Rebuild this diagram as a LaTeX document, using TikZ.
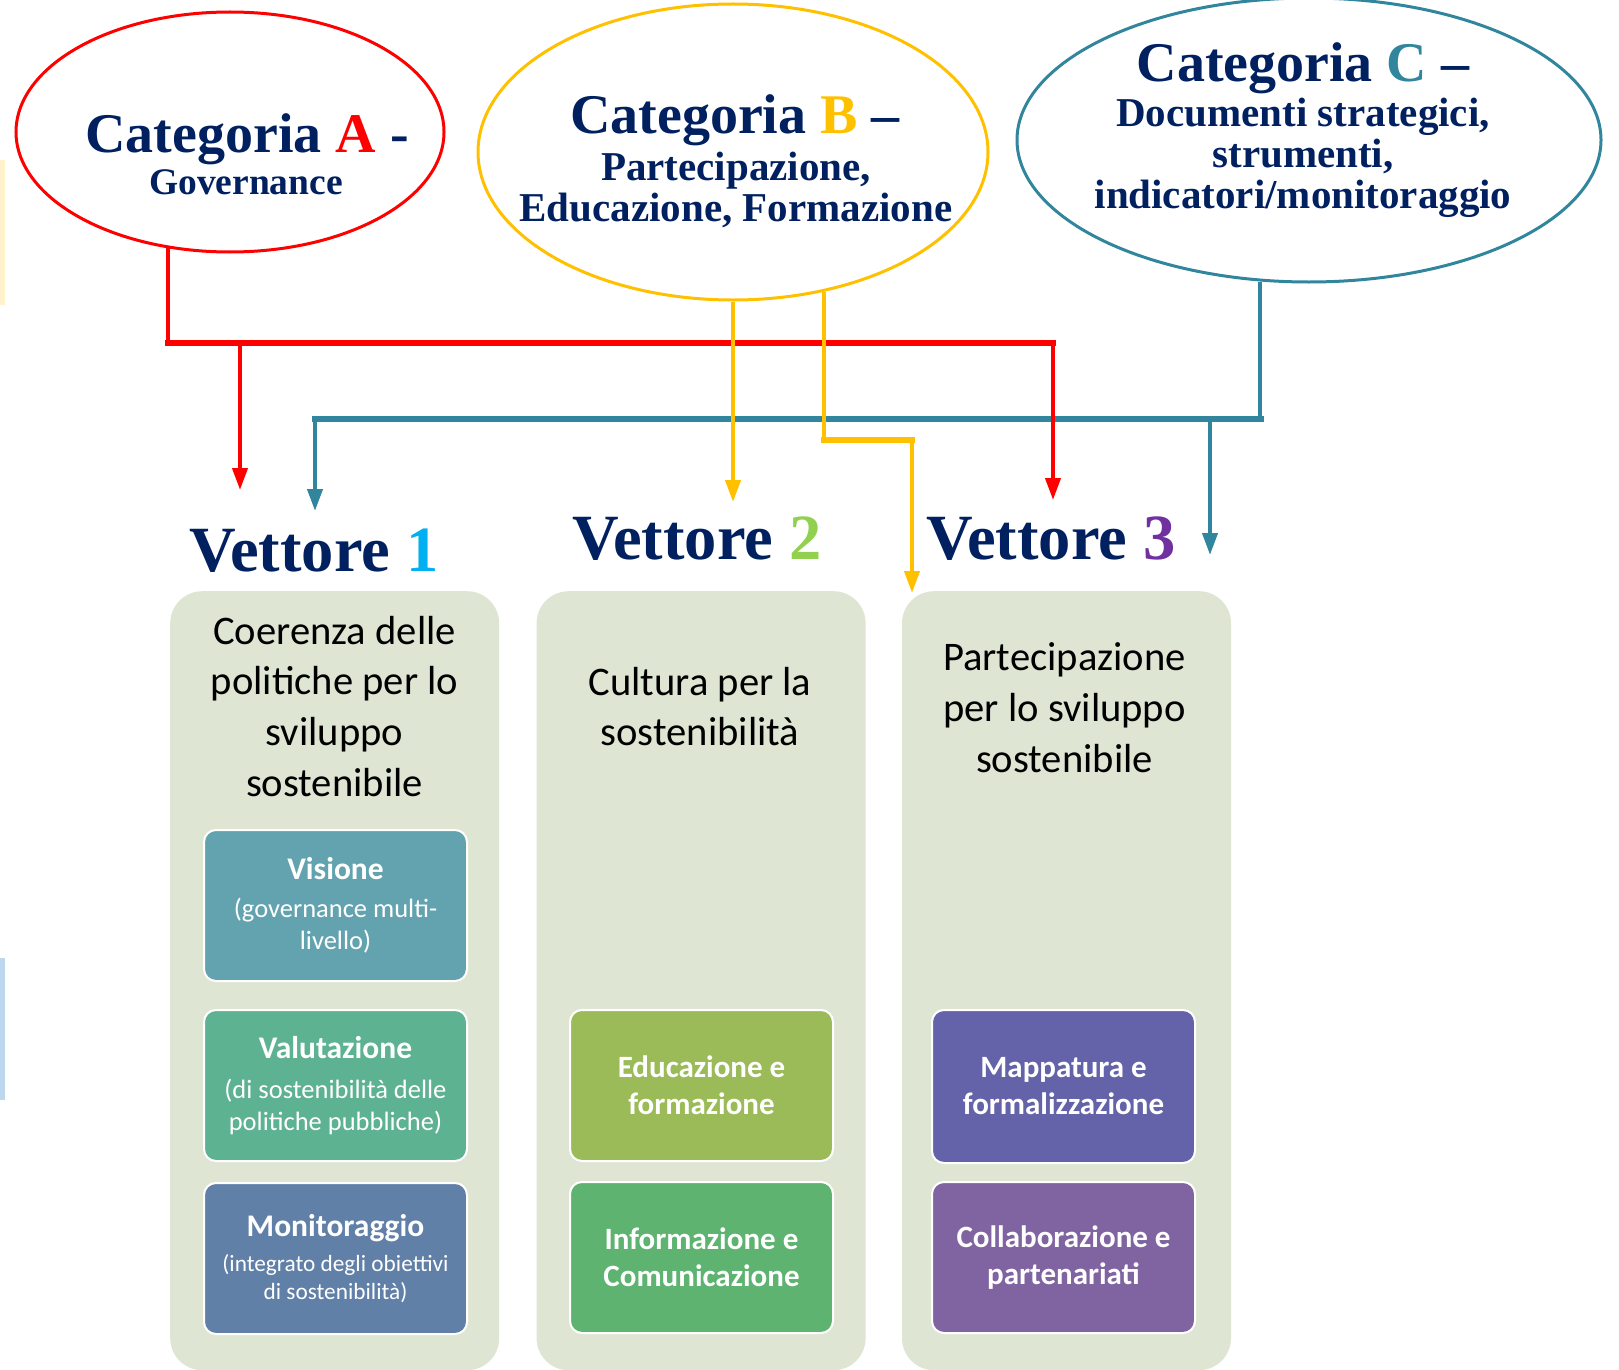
\documentclass[tikz,border=0pt]{standalone}
\usepackage{fontspec}
\setmainfont{Liberation Serif}
\setsansfont{Carlito}
\usepackage{tikz}
\usetikzlibrary{positioning, arrows.meta, shapes.geometric}

\definecolor{navy}{HTML}{002060}
\definecolor{catred}{HTML}{FF0000}
\definecolor{catyel}{HTML}{FFC000}
\definecolor{catteal}{HTML}{31859C}
\definecolor{num1}{HTML}{00B0F0}
\definecolor{num2}{HTML}{92D050}
\definecolor{num3}{HTML}{7030A0}
\definecolor{panelbg}{HTML}{DEE6D3}
\definecolor{colvis}{HTML}{62A3AF}
\definecolor{colval}{HTML}{5DB292}
\definecolor{colmon}{HTML}{6180A8}
\definecolor{coledu}{HTML}{9BBB59}
\definecolor{colinf}{HTML}{5DB36F}
\definecolor{colmap}{HTML}{6462A8}
\definecolor{colcol}{HTML}{8064A2}
\definecolor{stripyel}{HTML}{FFF2CC}
\definecolor{stripblu}{HTML}{BDD7EE}

\tikzset{
    catell/.style={draw, ellipse, line width=3pt, inner sep=0pt}, % the three categories
    cattitle/.style={font=\bfseries\fontsize{56}{60}\selectfont, text=navy, anchor=base, inner sep=0pt},
    catsub/.style={font=\bfseries\fontsize{41}{41}\selectfont, text=navy, anchor=base, inner sep=0pt, align=center},
    vettore/.style={font=\bfseries\fontsize{64.5}{70}\selectfont, text=navy, anchor=base, inner sep=0pt},
    panel/.style={fill=panelbg, rounded corners=32pt, minimum width=329pt, minimum height=779pt, inner sep=0pt},
    paneltitle/.style={font=\sffamily\fontsize{40.6}{50.6}\selectfont, align=center, anchor=base, inner sep=0pt},
    item/.style={draw=white, line width=2pt, rounded corners=12pt, minimum width=263pt, minimum height=151pt,
        text=white, align=center, inner sep=0pt, font=\sffamily\fontsize{26.5}{32}\selectfont},
    itembig/.style={item, font=\sffamily\bfseries\fontsize{31}{37}\selectfont},
    arr/.style={line width=4pt, -{Triangle[length=22pt,width=15pt]}},
    bar/.style={line width=6.5pt, line cap=rect},
}

\begin{document}
\begin{tikzpicture}[x=1pt, y=-1pt]
    \useasboundingbox (0,0) rectangle (1619,1370);
    \clip (0,0) rectangle (1619,1370);

    % strips at the left edge
    \fill[stripyel] (0,160) rectangle (5,305);
    \fill[stripblu] (0,958) rectangle (5,1100);

    % categories
    \node[catell, draw=catred, minimum width=428pt, minimum height=240pt] (catA) at (230,132) {};
    \node[catell, draw=catyel, minimum width=510pt, minimum height=296pt] (catB) at (733,152) {};
    \node[catell, draw=catteal, minimum width=584pt, minimum height=284pt] (catC) at (1309,140) {};

    \node[cattitle] (catAt) at (247,152) {Categoria \textcolor{catred}{A} -};
    \node[cattitle, font=\bfseries\fontsize{37.5}{40}\selectfont] (catAs) at (246,194) {Governance};
    \node[cattitle] (catBt) at (735,134) {Categoria \textcolor{catyel}{B} –};
    \node[catsub] (catBs) at (736,221) {Partecipazione,\\Educazione, Formazione};
    \node[cattitle] (catCt) at (1303,82) {Categoria \textcolor{catteal}{C} –};
    \node[catsub] (catCs) at (1303,208) {Documenti strategici,\\strumenti,\\indicatori/monitoraggio};

    % vettori
    \node[vettore] (vet1) at (314,571) {Vettore \textcolor{num1}{1}};
    \node[vettore] (vet2) at (697,559) {Vettore \textcolor{num2}{2}};
    \node[vettore] (vet3) at (1051,559) {Vettore \textcolor{num3}{3}};

    % panels
    \node[panel, anchor=north west] (pan1) at (170,591) {};
    \node[panel, right=37pt of pan1] (pan2) {};
    \node[panel, right=36pt of pan2] (pan3) {};

    \node[paneltitle] (tit1) at (334.5,796) {Coerenza delle\\politiche per lo\\sviluppo\\sostenibile};
    \node[paneltitle] (tit2) at (700,745.6) {Cultura per la\\sostenibilità};
    \node[paneltitle] (tit3) at (1064.5,772) {Partecipazione\\per lo sviluppo\\sostenibile};

    \node[item, fill=colvis, anchor=north west] (vis) at (203,829)
        {\textbf{\fontsize{31.5}{32}\selectfont Visione}\\[6pt](governance multi-\\livello)};
    \node[item, fill=colval, below=27pt of vis] (val)
        {\textbf{\fontsize{31.5}{32}\selectfont Valutazione}\\[8pt](di sostenibilità delle\\politiche pubbliche)};
    \node[item, fill=colmon, below=20pt of val, font=\sffamily\fontsize{23.3}{28}\selectfont] (mon)
        {\textbf{\fontsize{31.5}{32}\selectfont Monitoraggio}\\[7pt](integrato degli obiettivi\\di sostenibilità)};

    \node[itembig, fill=coledu, anchor=north west] (edu) at (569,1009) {Educazione e\\formazione};
    \node[itembig, fill=colinf, below=19pt of edu] (inf) {Informazione e\\Comunicazione};
    \node[itembig, fill=colmap, anchor=north west, minimum height=153pt] (map) at (931,1009) {Mappatura e\\formalizzazione};
    \node[itembig, fill=colcol, below=17pt of map] (col) {Collaborazione e\\partenariati};

    % connectors
    \coordinate (redy) at (0,343);
    \coordinate (tealy) at (0,419);
    \coordinate (yely) at (0,440);
    \coordinate (tipA1) at (240,490);
    \coordinate (tipA3) at (1053,500);
    \coordinate (tipB2) at (733,502);
    \coordinate (tipB3) at (912,593);
    \coordinate (tipC1) at (315,511);
    \coordinate (tipC3) at (1210,555);

    \draw[arr, catteal] (catC.251) |- (tipC1 |- tealy) -- (tipC1);
    \draw[arr, catteal] (tipC3 |- tealy) -- (tipC3);
    \draw[bar, catteal] (catC.251 |- tealy) -- (tipC1 |- tealy);

    \draw[arr, catred] (catA.242) |- (tipA3 |- redy) -- (tipA3);
    \draw[arr, catred] (tipA1 |- redy) -- (tipA1);
    \draw[bar, catred] (catA.242 |- redy) -- (tipA3 |- redy);

    \draw[arr, catyel] (catB.south) -- (tipB2);
    \draw[arr, catyel] (catB.303) |- (tipB3 |- yely) -- (tipB3);
    \draw[bar, catyel] (catB.303 |- yely) -- (tipB3 |- yely);
\end{tikzpicture}
\end{document}
